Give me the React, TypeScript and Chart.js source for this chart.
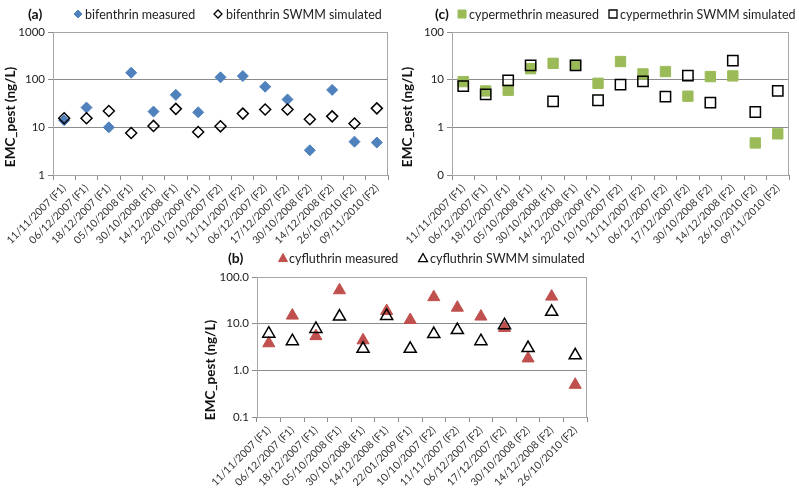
import React, { useEffect, useRef } from "react";
import { Chart, registerables } from "chart.js";

Chart.register(...registerables);

const categories = [
  "11/11/2007 (F1)", "06/12/2007 (F1)", "18/12/2007 (F1)", "05/10/2008 (F1)",
  "30/10/2008 (F1)", "14/12/2008 (F1)", "22/01/2009 (F1)", "10/10/2007 (F2)",
  "11/11/2007 (F2)", "06/12/2007 (F2)", "17/12/2007 (F2)", "30/10/2008 (F2)",
  "14/12/2008 (F2)", "26/10/2010 (F2)", "09/11/2010 (F2)",
];
const categoriesB = categories.slice(0, 14);

const bifenthrinMeasured = [14, 26, 10, 140, 21.4, 48, 20.7, 112, 119, 71, 38.5, 3.3, 61, 5.0, 4.8];
const bifenthrinSimulated = [15.5, 15.5, 22, 7.6, 10.7, 24.4, 8.0, 10.5, 19.4, 23.6, 23.6, 14.8, 17, 12, 25];

const cypermethrinMeasured = [9.1, 5.8, 6.0, 17, 22, 20, 8.4, 24, 13.2, 14.8, 4.5, 11.6, 12, 0.47, 0.73];
const cypermethrinSimulated = [7.3, 4.9, 9.7, 20, 3.5, 20, 3.7, 7.9, 9.2, 4.4, 12.2, 3.3, 25, 2.1, 5.8];

const cyfluthrinMeasured = [3.8, 14.9, 5.4, 52, 4.4, 18.7, 12, 37, 22, 14.2, 8.1, 1.8, 38, 0.49];
const cyfluthrinSimulated = [6.1, 4.2, 7.7, 14.2, 2.9, 14.6, 2.9, 6.0, 7.3, 4.2, 9.3, 3.0, 18, 2.1];

const ticksA = [1, 10, 100, 1000];
const tickLabelsA = ["1", "10", "100", "1000"];
const ticksC = [0.1, 1, 10, 100];
const tickLabelsC = ["0", "1", "10", "100"];
const ticksB = [0.1, 1, 10, 100];
const tickLabelsB = ["0.1", "1.0", "10.0", "100.0"];

const FONT = "Lato, 'Open Sans', sans-serif";
const GRID = "#8c8c8c";
const BORDER = "#a6a6a6";

type Style = "diamond" | "square" | "triangle";

type PanelProps = {
  left: number; top: number; width: number; height: number;
  area: { l: number; r: number; t: number; b: number };
  labels: string[];
  measured: number[]; simulated: number[];
  min: number; max: number;
  tickValues: number[]; tickLabels: string[];
  panelLabel: string; panelLabelX: number; headerY: number;
  legend: { text: string; markerX: number; textX: number }[];
  style: Style; color: string;
  titleX: number; titleY: number;
};

function drawMarker(ctx: CanvasRenderingContext2D, style: Style, x: number, y: number, s: number,
  fill: string | null, stroke: string, lw: number) {
  ctx.save();
  ctx.beginPath();
  if (style === "diamond") {
    ctx.moveTo(x, y - s); ctx.lineTo(x + s, y); ctx.lineTo(x, y + s); ctx.lineTo(x - s, y);
  } else if (style === "square") {
    ctx.rect(x - s, y - s, 2 * s, 2 * s);
  } else {
    ctx.moveTo(x, y - s); ctx.lineTo(x + s, y + s * 0.8); ctx.lineTo(x - s, y + s * 0.8);
  }
  ctx.closePath();
  if (fill) { ctx.fillStyle = fill; ctx.fill(); }
  ctx.strokeStyle = stroke; ctx.lineWidth = lw; ctx.stroke();
  ctx.restore();
}

function Panel(p: PanelProps) {
  const ref = useRef<HTMLCanvasElement | null>(null);
  useEffect(() => {
    if (!ref.current) return;
    const pointStyle = p.style === "diamond" ? "rectRot" : p.style === "square" ? "rect" : "triangle";
    const radius = p.style === "diamond" ? 5.5 : p.style === "square" ? 7.3 : 7;
    const decor = {
      id: "decor",
      beforeDatasetsDraw(chart: any) {
        const { ctx, chartArea: a } = chart;
        ctx.save();
        ctx.strokeStyle = BORDER; ctx.lineWidth = 1;
        ctx.strokeRect(Math.round(a.left) + 0.5, Math.round(a.top) + 0.5,
          Math.round(a.right - a.left) - 1, Math.round(a.bottom - a.top));
        ctx.restore();
      },
      afterDraw(chart: any) {
        const ctx: CanvasRenderingContext2D = chart.ctx;
        ctx.save();
        ctx.fillStyle = "#111";
        ctx.font = `bold 14px ${FONT}`;
        ctx.textBaseline = "middle";
        ctx.textAlign = "left";
        ctx.fillText(p.panelLabel, p.panelLabelX, p.headerY);
        ctx.font = `12.5px ${FONT}`;
        p.legend.forEach((it, i) => {
          const ms = p.style === "diamond" ? 4 : p.style === "square" ? 4 : 4.5;
          if (i === 0) drawMarker(ctx, p.style, it.markerX, p.headerY, ms, p.color, p.color, 1);
          else drawMarker(ctx, p.style, it.markerX, p.headerY, ms, null, "#000", 1.3);
          ctx.fillStyle = "#222";
          ctx.fillText(it.text, it.textX, p.headerY + 0.5);
        });
        ctx.translate(p.titleX, p.titleY);
        ctx.rotate(-Math.PI / 2);
        ctx.font = `bold 13.5px ${FONT}`;
        ctx.textAlign = "center";
        ctx.fillStyle = "#111";
        ctx.fillText("EMC_pest (ng/L)", 0, 0);
        ctx.restore();
      },
    };
    const chart = new Chart(ref.current, {
      type: "line",
      data: {
        labels: p.labels,
        datasets: [
          {
            label: "measured",
            data: p.measured,
            showLine: false,
            pointStyle,
            pointRadius: radius,
            pointBackgroundColor: p.color,
            pointBorderColor: p.color,
            pointBorderWidth: 1,
            order: 1,
            clip: false as any,
          },
          {
            label: "simulated",
            data: p.simulated,
            showLine: false,
            pointStyle,
            pointRadius: radius,
            pointBackgroundColor: "rgba(0,0,0,0)",
            pointBorderColor: "#000",
            pointBorderWidth: 1.5,
            order: 0,
            clip: false as any,
          },
        ],
      },
      options: {
        animation: false,
        responsive: false,
        events: [],
        layout: { padding: { left: 0, top: p.area.t, right: p.width - p.area.r, bottom: 0 } },
        plugins: { legend: { display: false }, tooltip: { enabled: false }, title: { display: false } },
        scales: {
          x: {
            type: "category",
            offset: true,
            grid: { offset: true, drawOnChartArea: false, drawTicks: true, tickLength: 5, color: GRID },
            border: { display: true, color: GRID },
            ticks: {
              autoSkip: false, minRotation: 45, maxRotation: 45, padding: 2,
              color: "#333", font: { family: FONT, size: 10.5 },
            },
            afterFit: (s: any) => { s.height = p.height - p.area.b; s.paddingLeft = 0; s.paddingRight = 0; },
          },
          y: {
            type: "logarithmic",
            min: p.min, max: p.max,
            grid: { color: GRID, drawTicks: true, tickLength: 5 },
            border: { display: true, color: GRID },
            ticks: {
              padding: 3, color: "#222", font: { family: FONT, size: 11.5 },
              callback: (v: any) => {
                const i = p.tickValues.findIndex((t) => Math.abs(t - Number(v)) / t < 1e-6);
                return i >= 0 ? p.tickLabels[i] : "";
              },
            },
            afterBuildTicks: (s: any) => { s.ticks = p.tickValues.map((v) => ({ value: v })); },
            afterFit: (s: any) => { s.width = p.area.l; s.paddingTop = 0; s.paddingBottom = 0; },
          },
        },
      } as any,
      plugins: [decor],
    });
    return () => chart.destroy();
  }, []);
  return (
    <canvas ref={ref} width={p.width} height={p.height}
      style={{ position: "absolute", left: p.left, top: p.top, width: p.width, height: p.height }} />
  );
}

export default function App() {
  return (
    <div style={{ position: "absolute", left: 0, top: 0, width: 799, height: 490, background: "#fff", overflow: "hidden" }}>
      <Panel left={0} top={0} width={400} height={245}
        area={{ l: 53, r: 388, t: 32, b: 175 }}
        labels={categories} measured={bifenthrinMeasured} simulated={bifenthrinSimulated}
        min={1} max={1000} tickValues={ticksA} tickLabels={tickLabelsA}
        panelLabel="(a)" panelLabelX={28} headerY={14}
        legend={[{ text: "bifenthrin measured", markerX: 78, textX: 85 }, { text: "bifenthrin SWMM simulated", markerX: 218, textX: 226 }]}
        style="diamond" color="#4F81BD" titleX={11} titleY={117} />
      <Panel left={400} top={0} width={399} height={245}
        area={{ l: 52, r: 389, t: 32, b: 175 }}
        labels={categories} measured={cypermethrinMeasured} simulated={cypermethrinSimulated}
        min={0.1} max={100} tickValues={ticksC} tickLabels={tickLabelsC}
        panelLabel="(c)" panelLabelX={35} headerY={14}
        legend={[{ text: "cypermethrin measured", markerX: 62, textX: 69 }, { text: "cypermethrin SWMM simulated", markerX: 213, textX: 220 }]}
        style="square" color="#9BBB59" titleX={8} titleY={117} />
      <Panel left={150} top={245} width={450} height={245}
        area={{ l: 107, r: 437, t: 32, b: 172 }}
        labels={categoriesB} measured={cyfluthrinMeasured} simulated={cyfluthrinSimulated}
        min={0.1} max={100} tickValues={ticksB} tickLabels={tickLabelsB}
        panelLabel="(b)" panelLabelX={78} headerY={13}
        legend={[{ text: "cyfluthrin measured", markerX: 133, textX: 139 }, { text: "cyfluthrin SWMM simulated", markerX: 273, textX: 280 }]}
        style="triangle" color="#C0504D" titleX={61} titleY={125} />
    </div>
  );
}
